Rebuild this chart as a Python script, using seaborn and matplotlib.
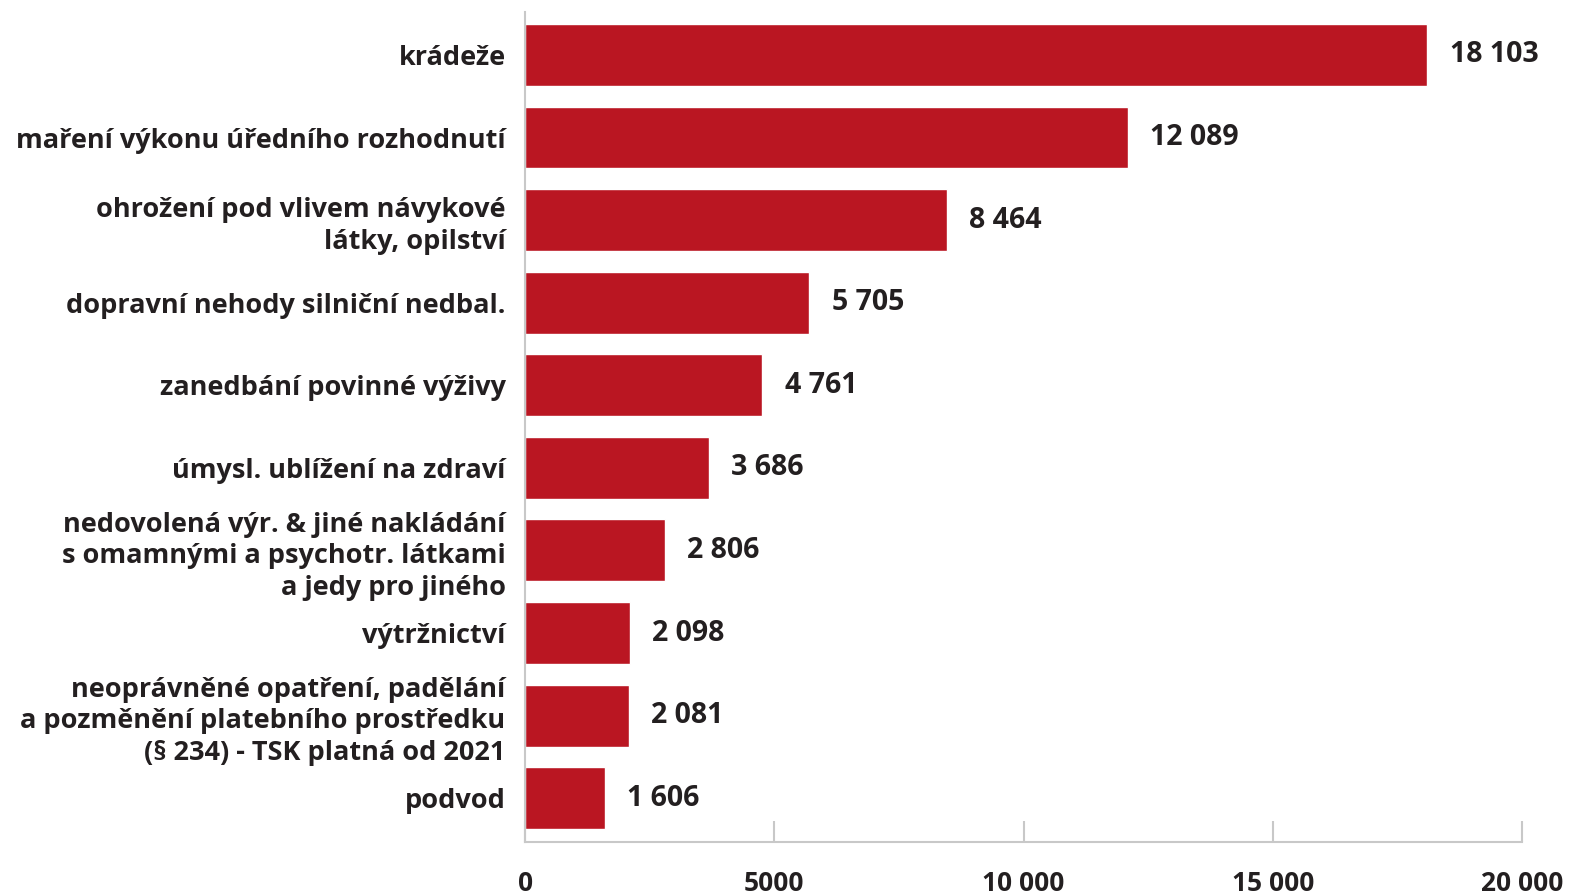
import pandas as pd
import matplotlib.pyplot as plt
import seaborn as sns
import matplotlib.ticker as ticker

categories = [
    'krádeže',
    'maření výkonu úředního rozhodnutí',
    'ohrožení pod vlivem návykové\nlátky, opilství',
    'dopravní nehody silniční nedbal.',
    'zanedbání povinné výživy',
    'úmysl. ublížení na zdraví',
    'nedovolená výr. & jiné nakládání\ns omamnými a psychotr. látkami\na jedy pro jiného',
    'výtržnictví',
    'neoprávněné opatření, padělání\na pozměnění platebního prostředku\n(§ 234) - TSK platná od 2021',
    'podvod',
]
counts = [18103, 12089, 8464, 5705, 4761, 3686, 2806, 2098, 2081, 1606]
x_ticks = [0, 5000, 10000, 15000, 20000]

df = pd.DataFrame({'kategorie': categories, 'pocet': counts})

sns.set_style('white')
plt.rcParams['font.family'] = ['Open Sans', 'DejaVu Sans']
plt.rcParams['font.weight'] = 'bold'

fig = plt.figure(figsize=(15.73, 8.94), dpi=100)
ax = fig.add_axes([0.3338, 0.0582, 0.6338, 0.9284])

sns.barplot(data=df, y='kategorie', x='pocet', color='#BA1622', width=0.75,
            saturation=1, ax=ax)

def fmt(v):
    return f'{int(v):,}'.replace(',', ' ')

# popisky hodnot
ax.bar_label(ax.containers[0], labels=[fmt(v) for v in counts], padding=16,
             fontsize=20.5, fontweight='bold', color='#231f20')

ax.set_xlim(0, 20000)
ax.set_ylim(9.53, -0.52)
ax.set_xticks(x_ticks)
ax.xaxis.set_major_formatter(ticker.FuncFormatter(
    lambda x, _: '5000' if x == 5000 else fmt(x)))
ax.set_xlabel('')
ax.set_ylabel('')

for side in ['top', 'right']:
    ax.spines[side].set_visible(False)
for side in ['left', 'bottom']:
    ax.spines[side].set_color('#c8c8c8')
    ax.spines[side].set_linewidth(1.5)

ax.tick_params(axis='x', bottom=True, direction='in', length=15, width=1.5,
               color='#c8c8c8', pad=20, labelsize=19, labelcolor='#231f20')
ax.tick_params(axis='y', left=False, length=0, pad=14, labelsize=19.5,
               labelcolor='#231f20')
for lbl in ax.get_xticklabels() + ax.get_yticklabels():
    lbl.set_fontweight('bold')
for lbl in ax.get_yticklabels():
    lbl.set_linespacing(1.28)
    lbl.set_multialignment('right')

fig.savefig('out.png', dpi=100)
